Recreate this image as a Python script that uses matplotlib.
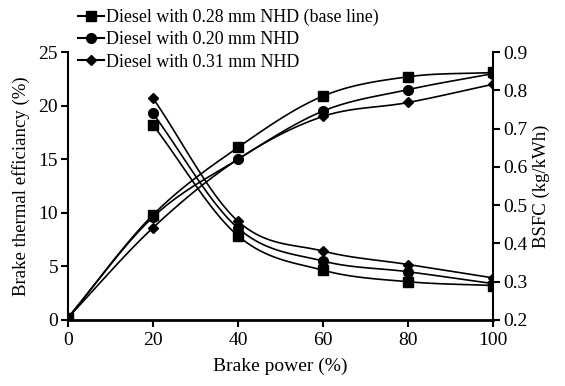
import numpy as np
import matplotlib
matplotlib.use("Agg")
import matplotlib.pyplot as plt
from matplotlib.lines import Line2D

plt.rcParams['font.family'] = ['Liberation Serif', 'DejaVu Serif']

# brake power (%)
power = [0, 20, 40, 60, 80, 100]
power_bsfc = [20, 40, 60, 80, 100]

# brake thermal efficiency (%)
bte_028 = [0.2, 9.8, 16.1, 20.9, 22.7, 23.1]
bte_020 = [0.2, 9.6, 15.0, 19.5, 21.5, 23.0]
bte_031 = [0.2, 8.6, 15.0, 19.0, 20.3, 22.0]

# BSFC (kg/kWh)
bsfc_028 = [0.71, 0.42, 0.33, 0.30, 0.29]
bsfc_020 = [0.74, 0.44, 0.354, 0.326, 0.295]
bsfc_031 = [0.78, 0.458, 0.38, 0.345, 0.31]

labels = ["Diesel with 0.28 mm NHD (base line)",
          "Diesel with 0.20 mm NHD",
          "Diesel with 0.31 mm NHD"]
markers = ['s', 'o', 'D']
msizes = [7, 7, 5]


def smooth(x, y, n=20):
    # Catmull-Rom style curve through the points (like a smoothed line in a spreadsheet)
    x = np.asarray(x, float)
    y = np.asarray(y, float)
    px = np.concatenate([[2 * x[0] - x[1]], x, [2 * x[-1] - x[-2]]])
    py = np.concatenate([[2 * y[0] - y[1]], y, [2 * y[-1] - y[-2]]])
    xs, ys = [], []
    t = np.linspace(0, 1, n)
    for i in range(1, len(px) - 2):
        for arr, out in ((px, xs), (py, ys)):
            p0, p1, p2, p3 = arr[i - 1], arr[i], arr[i + 1], arr[i + 2]
            seg = 0.5 * ((2 * p1) + (-p0 + p2) * t
                         + (2 * p0 - 5 * p1 + 4 * p2 - p3) * t ** 2
                         + (-p0 + 3 * p1 - 3 * p2 + p3) * t ** 3)
            out.extend(seg)
    return xs, ys


fig = plt.figure(figsize=(5.65, 3.86), dpi=100)
ax1 = fig.add_axes([0.120, 0.171, 0.753, 0.694])
ax2 = ax1.twinx()

for yv, m, ms in zip([bte_028, bte_020, bte_031], markers, msizes):
    sx, sy = smooth(power, yv)
    ax1.plot(sx, sy, color='black', lw=1.2, zorder=2)
    ax1.plot(power, yv, linestyle='none', marker=m, ms=ms, color='black', zorder=3)

for yv, m, ms in zip([bsfc_028, bsfc_020, bsfc_031], markers, msizes):
    sx, sy = smooth(power_bsfc, yv)
    ax2.plot(sx, sy, color='black', lw=1.2, zorder=2)
    ax2.plot(power_bsfc, yv, linestyle='none', marker=m, ms=ms, color='black', zorder=3)

ax1.set_xlim(0, 100)
ax1.set_ylim(0, 25)
ax2.set_ylim(0.2, 0.9)
ax1.set_xticks(power)
ax1.set_yticks([0, 5, 10, 15, 20, 25])
ax2.set_yticks([0.2, 0.3, 0.4, 0.5, 0.6, 0.7, 0.8, 0.9])

for ax in (ax1, ax2):
    ax.spines['top'].set_visible(False)
    ax.tick_params(labelsize=14, width=1.5, length=5, direction='out', pad=2)
ax1.spines['right'].set_visible(False)
ax2.spines['left'].set_visible(False)
ax2.spines['bottom'].set_visible(False)
ax1.spines['left'].set_linewidth(1.5)
ax1.spines['bottom'].set_linewidth(2)
ax2.spines['right'].set_linewidth(1.5)
ax1.tick_params(axis='x', pad=4)

ax1.set_xlabel("Brake power (%)", fontsize=14, labelpad=6)
ax1.set_ylabel("Brake thermal efficiancy (%)", fontsize=13.5, labelpad=6)
ax2.set_ylabel("BSFC (kg/kWh)", fontsize=13.5, labelpad=4)

handles = [Line2D([], [], color='black', lw=1.5, marker=m, ms=ms)
           for m, ms in zip(markers, msizes)]
fig.legend(handles, labels, loc='upper left', bbox_to_anchor=(0.115, 1.01),
           frameon=False, fontsize=12.9, handlelength=1.5, handletextpad=0.1,
           labelspacing=0.3, borderpad=0.2)

fig.savefig("out.png", dpi=100)
